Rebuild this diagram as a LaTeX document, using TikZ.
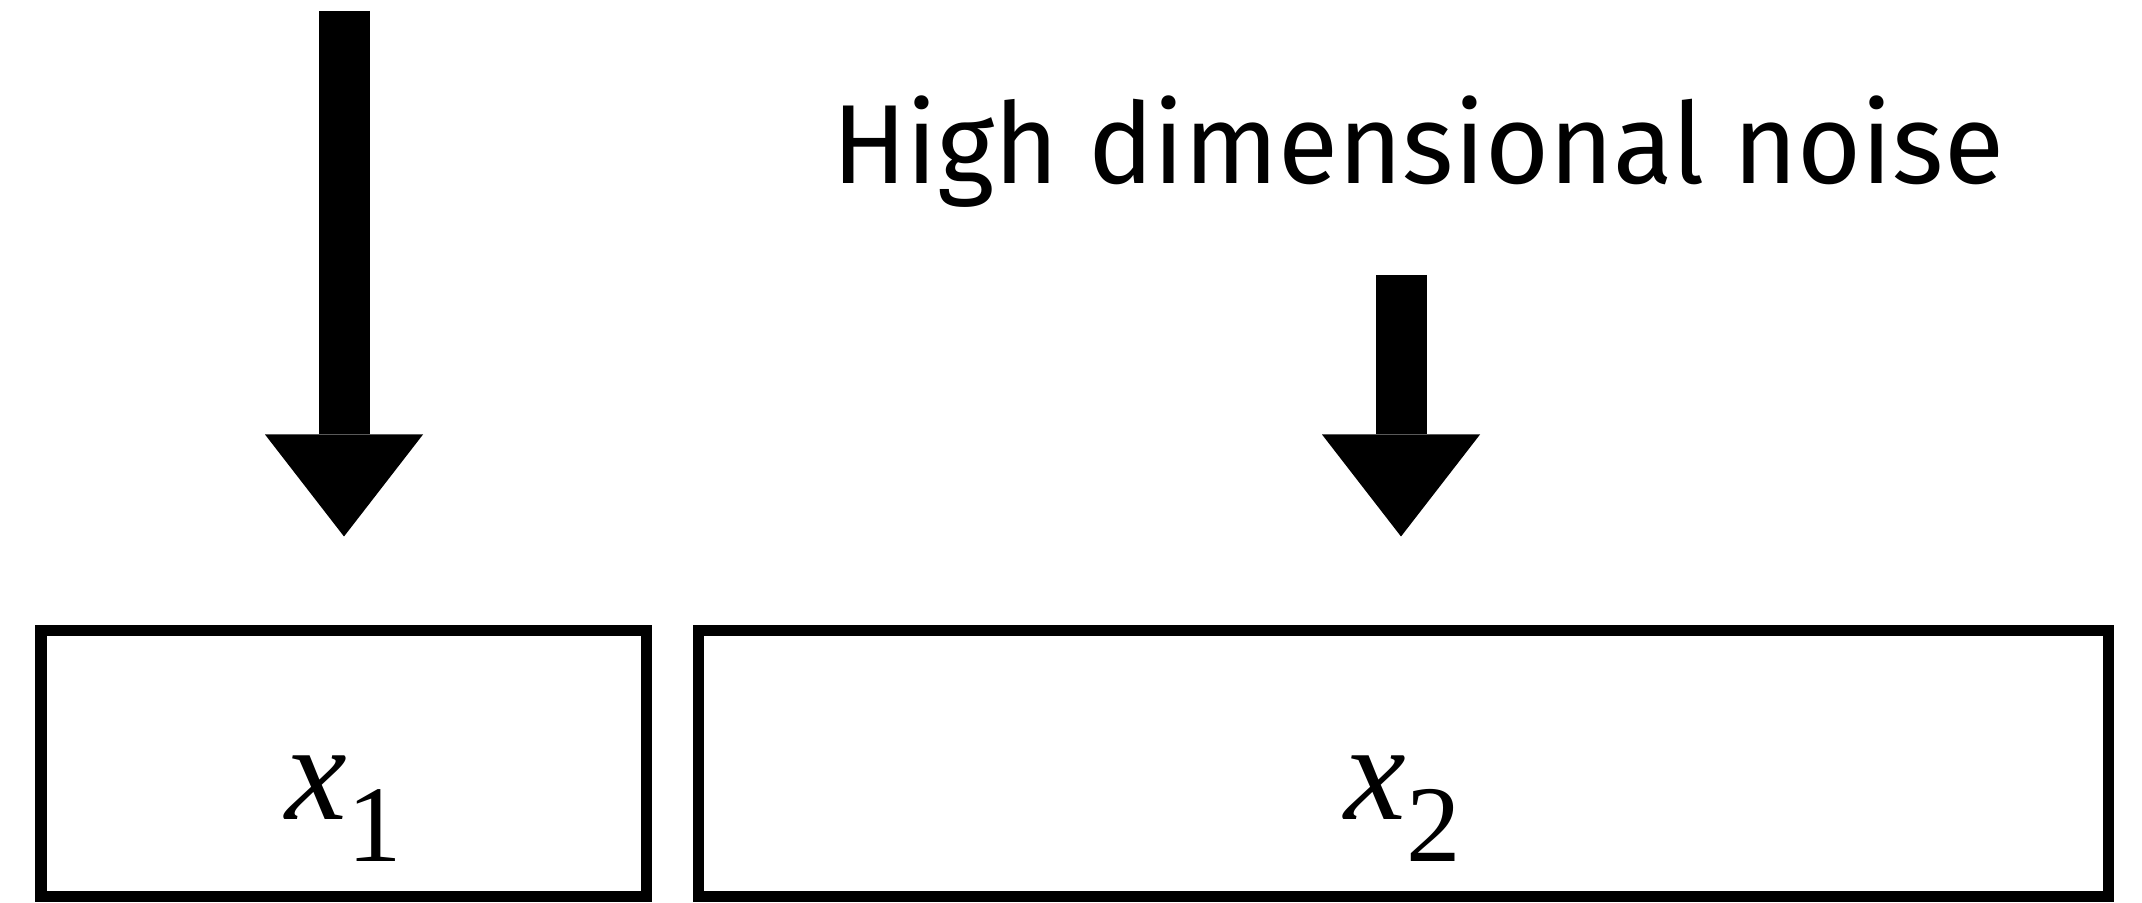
\documentclass[tikz,border=0pt]{standalone}
\usepackage{fontspec}
\setmainfont{Fira Sans}[FakeStretch=0.976]
\newfontfamily\timesvar{Liberation Serif}
\usetikzlibrary{arrows.meta}

\begin{document}
\begin{tikzpicture}[
  databox/.style={draw, rectangle, line width=0.22cm, minimum height=5.3cm, text height=2.26cm, text depth=0pt, font=\timesvar},
  bigarrow/.style={line width=1.02cm, -{Triangle[width=3.16cm,length=2.04cm,line width=0pt]}, shorten >=1.78cm}
]
\useasboundingbox (0,0) rectangle (42.84,18.04);
\node[databox, minimum width=12.1cm] (x1) at (6.87,2.77) {\fontsize{79}{90}\selectfont\itshape x\upshape\raisebox{-0.84cm}{\fontsize{62}{70}\selectfont 1}};
\node[databox, minimum width=28.2cm] (x2) at (28.06,2.77) {\fontsize{79}{90}\selectfont\itshape x\upshape\raisebox{-0.84cm}{\fontsize{62}{70}\selectfont 2}};
\node[anchor=base] (noise) at (28.36,14.36) {\fontsize{64}{76}\selectfont High dimensional noise};
\coordinate (src1) at (6.88,17.82);
\coordinate (src2) at (28.02,12.54);
\draw[bigarrow] (src1) -- (src1 |- x1.north);
\draw[bigarrow] (src2) -- (src2 |- x2.north);
\end{tikzpicture}
\end{document}
